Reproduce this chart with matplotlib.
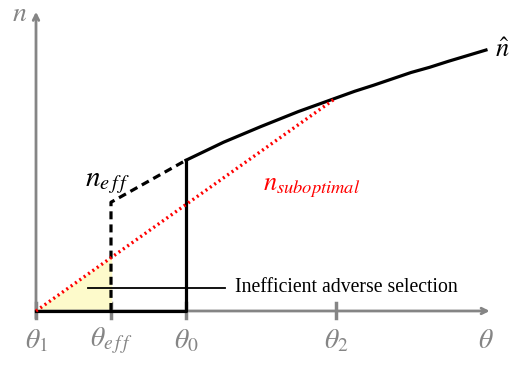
import matplotlib.pyplot as plt

plt.rcParams['mathtext.fontset'] = 'stix'

# positions on the theta axis and their labels
tick_theta = [0, 1, 2, 4]
tick_labels = [r'$\theta_1$', r'$\theta_{e\,f\,f}$', r'$\theta_0$', r'$\theta_2$']

# n-hat curve
nhat_theta = [2.0, 2.25, 2.5, 2.75, 3.0, 3.25, 3.5, 3.75, 4.0,
              4.25, 4.5, 4.75, 5.0, 5.25, 5.5, 5.75, 6.0]
nhat_vals = [2.01, 2.13, 2.25, 2.355, 2.46, 2.56, 2.66, 2.75, 2.84,
             2.93, 3.01, 3.095, 3.18, 3.25, 3.33, 3.405, 3.48]

# efficient schedule (dashed)
neff_theta = [1, 1, 2]
neff_vals = [0, 1.45, 2.01]

# adverse selection schedule (solid)
adv_theta = [0, 2, 2]
adv_vals = [0, 0, 2.01]

# suboptimal straight line
sub_theta = [0, 4]
sub_vals = [0, 2.84]

# yellow triangle
tri_theta = [0, 1, 1]
tri_vals = [0, 0, 0.71]

gray = '#858585'

fig = plt.figure(figsize=(5.15, 3.70), dpi=100)
ax = fig.add_axes([0, 0, 1, 1])
ax.set_xlim(-0.48, 6.387)
ax.set_ylim(-0.787, 4.147)
ax.axis('off')

# axes with arrows
ax.annotate('', xy=(6.05, 0), xytext=(0, 0),
            arrowprops=dict(arrowstyle='->', color=gray, lw=2, shrinkA=0, shrinkB=0))
ax.annotate('', xy=(0, 3.99), xytext=(0, -0.1),
            arrowprops=dict(arrowstyle='->', color=gray, lw=2, shrinkA=0, shrinkB=0))
for t, lab in zip(tick_theta, tick_labels):
    ax.plot([t, t], [-0.1, 0.1], color=gray, lw=2.5, zorder=1)
    ax.text(t, -0.2, lab, color=gray, fontsize=20, ha='center', va='top')
ax.text(6.0, -0.2, r'$\theta$', color=gray, fontsize=20, ha='center', va='top')
ax.text(-0.12, 3.98, r'$n$', color=gray, fontsize=20, ha='right', va='center')

ax.fill(tri_theta, tri_vals, color='#fdfacb', zorder=2)

ax.plot(sub_theta, sub_vals, color='red', lw=2.4, ls=(0, (0.6, 1.0)), zorder=4)
ax.plot(neff_theta, neff_vals, color='black', lw=2.3, ls=(0, (2.5, 1.6)),
        solid_joinstyle='round', dash_joinstyle='round', zorder=3)
ax.plot(adv_theta, adv_vals, color='black', lw=2.3, zorder=3)
ax.plot(nhat_theta, nhat_vals, color='black', lw=2.3, zorder=3,
        solid_joinstyle='round')

ax.plot([0.69, 2.52], [0.31, 0.31], color='black', lw=1.3, zorder=5)
ax.text(2.65, 0.31, 'Inefficient adverse selection', family='Liberation Serif',
        fontsize=14.2, ha='left', va='center')

ax.text(6.12, 3.48, r'$\hat{n}$', fontsize=19, ha='left', va='center')
ax.text(0.65, 1.72, r'$n_{e\,f\,f}$', fontsize=21, ha='left', va='center')
ax.text(3.68, 1.65, r'$n_{suboptimal}$', color='red', fontsize=19, ha='center', va='center')

fig.savefig('out.png', dpi=100)
